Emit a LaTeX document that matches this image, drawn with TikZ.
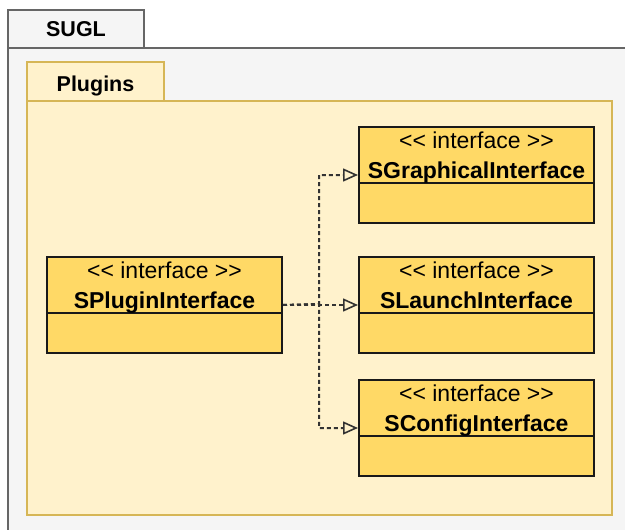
\documentclass[tikz,border=0pt]{standalone}
\usepackage{fontspec}
\setmainfont{Liberation Sans}
\usetikzlibrary{arrows.meta}
\definecolor{frameFill}{HTML}{F5F5F5}
\definecolor{frameLine}{HTML}{666666}
\definecolor{pkgFill}{HTML}{FFF2CC}
\definecolor{pkgLine}{HTML}{D6B656}
\definecolor{ifaceFill}{HTML}{FFD966}
\tikzset{
  frametab/.style={draw=frameLine, fill=frameFill, line width=1.8pt},
  pkgtab/.style={draw=pkgLine, fill=pkgFill, line width=1.8pt},
  ifacebox/.style={draw=black!90, fill=ifaceFill, line width=2pt, rectangle,
    minimum width=235pt, minimum height=96pt, inner sep=0pt, anchor=north west},
  stereo/.style={anchor=base, inner sep=0pt, font=\fontsize{23}{27}\selectfont},
  cname/.style={anchor=base, inner sep=0pt, font=\fontsize{23}{27}\selectfont\bfseries},
  tabtitle/.style={anchor=base, inner sep=0pt, font=\fontsize{21.5}{25}\selectfont\bfseries},
  realize/.style={draw=black!80, line width=2pt, dash pattern=on 4pt off 3pt,
    -{Triangle[open, length=15pt, width=13pt, fill=pkgFill, line width=1.6pt]}},
}
% one interface box with stereotype, name and an empty member compartment
\newcommand{\ifacenode}[4]{% name, x, y (top), title
  \node[ifacebox] (#1) at (#2,#3) {};
  \draw[line width=2pt, black!90] ([yshift=-57pt]#1.north west) -- ([yshift=-57pt]#1.north east);
  \node[stereo] (#1-st) at ([yshift=-22pt]#1.north) {<\kern0pt< interface >\kern0pt>};
  \node[cname] (#1-nm) at ([yshift=-52pt]#1.north) {#4};
}
\begin{document}
\begin{tikzpicture}[x=1pt, y=-1pt]
  \useasboundingbox (0,0) rectangle (625,530);
  \clip (0,0) rectangle (625,530);
  \fill[white] (0,0) rectangle (625,530);

  % outer SUGL frame
  \path[frametab] (8,48) rectangle (640,545);
  \path[frametab] (8,10) rectangle (144,48);
  \node[tabtitle] (sugl) at (76,37) {SUGL};

  % Plugins package
  \path[pkgtab] (27,101) rectangle (612,515);
  \path[pkgtab] (27,62) rectangle (164,101);
  \node[tabtitle] (plugins) at (95.5,91) {Plugins};

  % interfaces
  \ifacenode{plug}{46}{256}{SPluginInterface}
  \ifacenode{graph}{358}{126}{SGraphicalInterface}
  \ifacenode{launch}{358}{256}{SLaunchInterface}
  \ifacenode{config}{358}{379}{SConfigInterface}

  % realization connectors
  \coordinate (fork) at (319,304);
  \draw[realize] (plug.east) -- (fork) |- (graph.west);
  \draw[realize] (plug.east) -- (launch.west);
  \draw[realize] (plug.east) -- (fork) |- (config.west);
\end{tikzpicture}
\end{document}
